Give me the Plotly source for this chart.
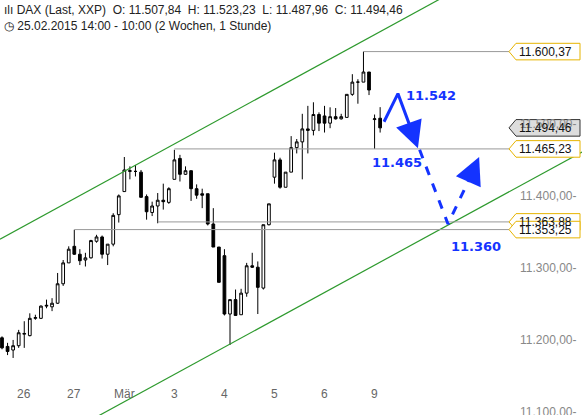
import plotly.graph_objects as go

# OHLC per hourly candle (25.02.2015 14:00 .. 09.03.2015 10:00)
opens  = [11203,11191,11186,11192,11208,11206,11230,11230,11247,11246,11251,11278,11307,11330,11319,11311,11314,11337,11343,11319,
          11333,11374,11406,11434,11434,11433,11399,11377,11386,11394,11391,11423,11452,11430,11435,11410,11403,11403,11361,11329,
          11317,11236,11256,11235,11265,11303,11301,11272,11360,11426,11450,11412,11433,11467,11475,11493,11491,11513,11511,11501,
          11510,11507,11509,11541,11558,11558,11572,11506,11507.84]
highs  = [11205,11196,11200,11214,11226,11237,11235,11248,11256,11258,11293,11311,11330,11353,11326,11321,11339,11346,11345,11333,
          11376,11402,11454,11441,11443,11436,11402,11392,11404,11417,11412,11464,11457,11441,11435,11416,11410,11403,11383,11329,
          11326,11256,11270,11271,11307,11321,11309,11360,11389,11460,11453,11433,11483,11479,11514,11525,11530,11516,11525,11523,
          11522,11514,11541,11569,11562,11600.37,11572,11513,11523.23]
lows   = [11187,11179,11175,11189,11189,11205,11228,11229,11244,11240,11250,11275,11307,11318,11304,11302,11313,11335,11313,11304,
          11330,11363,11406,11423,11427,11398,11367,11372,11362,11381,11389,11423,11420,11429,11393,11396,11383,11359,11329,11280,
          11234,11193,11234,11235,11260,11300,11236,11270,11359,11417,11410,11412,11433,11459,11423,11459,11484,11490,11488,11494,
          11506,11506,11509,11539,11528,11558,11540,11465.23,11487.96]
closes = [11189,11184,11192,11210,11209,11230,11231,11247,11248,11251,11278,11307,11326,11319,11310,11314,11338,11343,11319,11333,
          11373,11400,11436,11435,11434,11398,11378,11386,11394,11392,11410,11450,11430,11435,11410,11401,11401,11361,11329,11280,
          11236,11256,11234,11265,11303,11301,11273,11360,11389,11450,11412,11433,11467,11475,11493,11491,11513,11501,11501,11510,
          11507,11510,11541,11558,11558,11572,11547,11507,11494.46]

day_tick_idx = [4, 13, 22, 31, 40, 49, 58, 67]
day_tick_lbl = ["26", "27", "Mär", "3", "4", "5", "6", "9"]

axis_vals = [11400, 11300, 11200, 11100]
axis_lbls = ["11.400,00", "11.300,00", "11.200,00", "11.100,00"]

level_vals  = [11600.37, 11465.23, 11363.88, 11353.25]
level_lbls  = ["11.600,37", "11.465,23", "11.363,88", "11.353,25"]
level_start = [65, 31, 28, 13]
last_val, last_lbl = 11494.46, "11.494,46"
hidden_axis_val, hidden_axis_lbl = 11500, "11.500,00"

# channel lines (index, value)
upper_x, upper_y = [-0.36, 104.3], [11340, 11781]
lower_x, lower_y = [-0.36, 104.3], [11020, 11461]

# forecast paths
solid_x, solid_y = [68.7, 71.2, 73.6], [11503, 11542, 11492]
solid_tip = (74.8, 11466)
dash_x, dash_y = [75.1, 80.2, 84.5], [11464, 11361, 11431]
dash_tip = (85.8, 11454)
fc_lbls = [("11.542", 72.3, 11540), ("11.465", 66.2, 11447), ("11.360", 80.4, 11330)]

X0, X1 = -0.36, 104.3
Y0, Y1 = 11095.8, 11672
XEND = 91.3

fig = go.Figure()
for xs, ys in [(upper_x, upper_y), (lower_x, lower_y)]:
    fig.add_trace(go.Scatter(x=xs, y=ys, mode="lines", line=dict(color="#2e9a2e", width=1.2), hoverinfo="skip"))
for v, s in zip(level_vals, level_start):
    fig.add_trace(go.Scatter(x=[s, XEND], y=[v, v], mode="lines", line=dict(color="#999999", width=1), hoverinfo="skip"))

fig.add_trace(go.Candlestick(
    x=list(range(len(opens))), open=opens, high=highs, low=lows, close=closes,
    increasing=dict(fillcolor="white", line=dict(color="black", width=1)),
    decreasing=dict(fillcolor="black", line=dict(color="black", width=1)),
    whiskerwidth=0))

fig.add_trace(go.Scatter(x=solid_x, y=solid_y, mode="lines", line=dict(color="#1433ff", width=3), hoverinfo="skip"))
fig.add_trace(go.Scatter(x=dash_x, y=dash_y, mode="lines", line=dict(color="#1433ff", width=3, dash="dash"), hoverinfo="skip"))

ann = []
for (tx, ty), (fx, fy) in [(solid_tip, (solid_x[-1], solid_y[-1])), (dash_tip, (dash_x[-1], dash_y[-1]))]:
    ann.append(dict(x=tx, y=ty, ax=fx, ay=fy, xref="x", yref="y", axref="x", ayref="y", text="",
                    showarrow=True, arrowhead=2, arrowsize=1.8, arrowwidth=3, arrowcolor="#1433ff"))
for t, x, y in fc_lbls:
    ann.append(dict(x=x, y=y, text="<b>"+t+"</b>", showarrow=False, xanchor="left",
                    font=dict(family="DejaVu Sans", size=13, color="#1433ff")))
for v, t in zip(axis_vals + [hidden_axis_val], axis_lbls + [hidden_axis_lbl]):
    ann.append(dict(x=0.995, xref="paper", y=v, yref="y", text=t + "-", showarrow=False, xanchor="right",
                    font=dict(family="Liberation Sans", size=12, color="#888888")))
for i, t in zip(day_tick_idx, day_tick_lbl):
    ann.append(dict(x=i, y=0.029, yref="paper", text=t, showarrow=False,
                    font=dict(family="Liberation Sans", size=12, color="#666666")))
ann.append(dict(x=0.003, y=0.998, xref="paper", yref="paper", xanchor="left", yanchor="top", align="left",
                showarrow=False, font=dict(family="Liberation Sans", size=12, color="#222222"),
                text="ılı DAX (Last, XXP)  O: 11.507,84  H: 11.523,23  L: 11.487,96  C: 11.494,46<br>"
                     "◷ 25.02.2015 14:00 - 10:00 (2 Wochen, 1 Stunde)"))

shapes = []
def tag(v, fill, border):
    h = 11.5
    xa, xb, xc = 509/582, 516/582, 580/582
    path = f"M {xa},{v} L {xb},{v+h} L {xc},{v+h} L {xc},{v-h} L {xb},{v-h} Z"
    shapes.append(dict(type="path", path=path, xref="paper", yref="y", fillcolor=fill, line=dict(color=border, width=1)))
tag(last_val, "#dddddd", "#333333")
for v in level_vals:
    tag(v, "white", "#e6b400")
for v, t in zip(level_vals + [last_val], level_lbls + [last_lbl]):
    ann.append(dict(x=0.986, xref="paper", y=v, yref="y", text=t, showarrow=False, xanchor="right",
                    font=dict(family="Liberation Sans", size=12, color="#111111")))

fig.update_layout(
    width=582, height=415, margin=dict(l=0, r=0, t=0, b=0),
    plot_bgcolor="white", paper_bgcolor="white", showlegend=False,
    xaxis=dict(range=[X0, X1], visible=False, rangeslider=dict(visible=False)),
    yaxis=dict(range=[Y0, Y1], visible=False),
    annotations=ann, shapes=shapes)
fig.write_html("out.html", config={"displayModeBar": False},
               post_script="document.body.style.margin='0';document.body.style.overflow='hidden';")
